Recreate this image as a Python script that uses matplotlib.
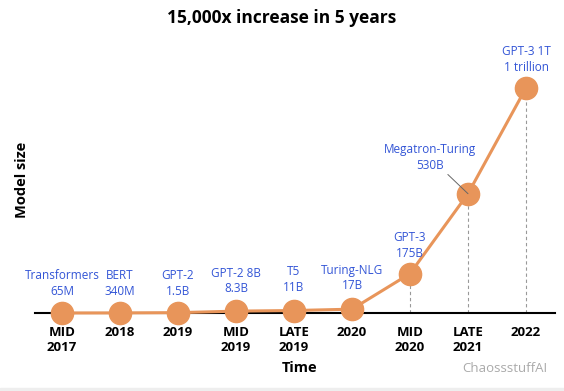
import matplotlib
matplotlib.use("Agg")
import matplotlib.pyplot as plt
from matplotlib.patches import Rectangle

plt.rcParams['font.family'] = ['Open Sans', 'DejaVu Sans']

periods = ["MID\n2017", "2018", "2019", "MID\n2019", "LATE\n2019", "2020", "MID\n2020", "LATE\n2021", "2022"]
models = ["Transformers\n65M", "BERT\n340M", "GPT-2\n1.5B", "GPT-2 8B\n8.3B", "T5\n11B",
          "Turing-NLG\n17B", "GPT-3\n175B", "Megatron-Turing\n530B", "GPT-3 1T\n1 trillion"]
size_billions = [0.065, 0.34, 1.5, 8.3, 11, 17, 175, 530, 1000]

orange = "#E8955A"
blue = "#3355D6"

W, H = 564, 391
fig = plt.figure(figsize=(W / 100, H / 100), dpi=100)
ax = fig.add_axes([35 / W, 1 - 313 / H, (555 - 35) / W, (313 - 60) / H])
x = list(range(len(periods)))
ax.set_xlim(-27 / 58, 8 + 29 / 58)
ax.set_ylim(0, 1124)

# dashed guides for the big models
for i in (6, 7, 8):
    ax.plot([x[i], x[i]], [0, size_billions[i]], ls=(0, (3, 2.5)), color="#999999", lw=0.8, zorder=1)

ax.plot(x, size_billions, color=orange, lw=2.2, marker="o", markersize=16,
        markerfacecolor=orange, markeredgecolor=orange, clip_on=False, zorder=3)

offsets = [(0, 15), (0, 15), (0, 15), (0, 16), (0, 17), (0, 17), (0, 14), (-38, 22), (0, 14)]
for i, (lab, off) in enumerate(zip(models, offsets)):
    if i == 7:
        ax.annotate(lab, xy=(x[i], size_billions[i]), xytext=off, textcoords="offset pixels",
                    ha="center", va="bottom", color=blue, fontsize=8.5, linespacing=1.25,
                    arrowprops=dict(arrowstyle="-", color="#666666", lw=0.7,
                                    shrinkA=0, shrinkB=0), zorder=4)
    else:
        ax.annotate(lab, xy=(x[i], size_billions[i]), xytext=off, textcoords="offset pixels",
                    ha="center", va="bottom", color=blue, fontsize=8.5, linespacing=1.25, zorder=4)

for s in ("top", "right", "left"):
    ax.spines[s].set_visible(False)
ax.spines["bottom"].set_linewidth(1.5)
ax.spines["bottom"].set_color("black")
ax.set_yticks([])
ax.set_xticks(x)
ax.set_xticklabels(periods, fontweight="bold", fontsize=9.5, linespacing=1.15)
ax.tick_params(axis="x", length=0, pad=9.5)
ax.set_facecolor("none")

fig.text(0.5, 1 - 18 / H, "15,000x increase in 5 years", ha="center", va="center",
         fontsize=12.5, fontweight="bold")
fig.text(22 / W, 1 - 180 / H, "Model size", rotation=90, ha="center", va="center",
         fontsize=10.5, fontweight="bold")
fig.text(300 / W, 1 - 368 / H, "Time", ha="center", va="center", fontsize=10.5, fontweight="bold")
fig.text(462 / W, 1 - 368 / H, "ChaossstuffAI", ha="left", va="center", fontsize=9.5, color="#AAAAAA")
fig.patches.append(Rectangle((0, 0), 1, 3 / H, transform=fig.transFigure, color="#EEEEEE"))

fig.savefig("out.png", dpi=100)
